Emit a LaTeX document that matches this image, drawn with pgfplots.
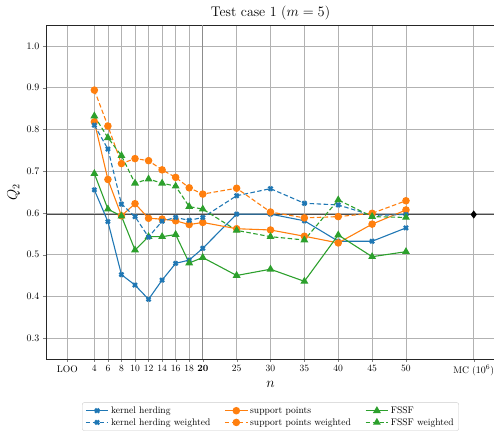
\documentclass[border=0pt]{standalone}
\usepackage{pgfplots}
\pgfplotsset{compat=1.18}
\definecolor{tabblue}{HTML}{1F77B4}
\definecolor{taborange}{HTML}{FF7F0E}
\definecolor{tabgreen}{HTML}{2CA02C}
\begin{document}
\begin{tikzpicture}
\begin{axis}[
  scale only axis, width=449bp, height=334bp,
  xmin=-3.14, xmax=63.14, ymin=0.25, ymax=1.05,
  xtick={0,4,6,8,10,12,14,16,18,20,25,30,35,40,45,50,60},
  xticklabels={LOO,4,6,8,10,12,14,16,18,\textbf{20},25,30,35,40,45,50,MC ($10^6$)},
  ytick={0.3,0.4,0.5,0.6,0.7,0.8,0.9,1.0},
  yticklabel style={/pgf/number format/.cd,fixed,fixed zerofill,precision=1},
  tick label style={font=\fontsize{9.6}{11}\selectfont},
  tick align=outside, tick pos=left,
  major tick length=3bp,
  grid=major, grid style={black!30, line width=0.7pt},
  axis line style={black!85, line width=0.7pt},
  title={Test case 1 ($m=5$)},
  title style={font=\fontsize{14}{16}\selectfont, yshift=-5bp},
  xlabel={$n$}, ylabel={$Q_2$},
  label style={font=\fontsize{14}{16}\selectfont},
  xlabel style={yshift=2bp},
  every axis plot/.append style={line width=1.1pt},
  legend style={at={(0.5,-0.13)}, anchor=north, legend columns=3,
    font=\fontsize{9.6}{11}\selectfont, draw=black!20, rounded corners=2pt,
    /tikz/every even column/.append style={column sep=12bp},
    row sep=-0.5bp, inner xsep=3bp, inner ysep=2bp},
  legend cell align=left,
  legend image code/.code={\draw[mark repeat=2,mark phase=2] plot coordinates {(0cm,0cm)(0.4cm,0cm)(0.8cm,0cm)};},
]
% reference lines
\addplot[forget plot, black!45, line width=1.0pt] coordinates {(20,0.25)(20,1.05)};
\addplot[forget plot, black!70, line width=1.3pt] coordinates {(-3.14,0.596)(63.14,0.596)};
\addplot[forget plot, only marks, black, mark=diamond*, mark size=3.2pt] coordinates {(60,0.596)};

% kernel herding
\addplot[tabblue, solid, mark=x, mark size=2.8pt, mark options={solid, line width=2.3pt}] coordinates {
(4,0.655)(6,0.579)(8,0.452)(10,0.427)(12,0.393)(14,0.439)(16,0.479)(18,0.487)(20,0.515)(25,0.597)(30,0.597)(35,0.581)(40,0.532)(45,0.532)(50,0.564)};
\addlegendentry{kernel herding}
% support points
\addplot[taborange, solid, mark=*, mark size=3.2pt, mark options={solid}] coordinates {
(4,0.818)(6,0.680)(8,0.593)(10,0.622)(12,0.587)(14,0.585)(16,0.581)(18,0.572)(20,0.577)(25,0.562)(30,0.559)(35,0.544)(40,0.528)(45,0.573)(50,0.607)};
\addlegendentry{support points}
% FSSF
\addplot[tabgreen, solid, mark=triangle*, mark size=3.5pt, mark options={solid}] coordinates {
(4,0.694)(6,0.609)(8,0.592)(10,0.511)(12,0.543)(14,0.543)(16,0.548)(18,0.480)(20,0.493)(25,0.450)(30,0.465)(35,0.436)(40,0.547)(45,0.495)(50,0.507)};
\addlegendentry{FSSF}
% kernel herding weighted
\addplot[tabblue, dash pattern=on 4.5pt off 2.5pt, mark=x, mark size=2.8pt, mark options={solid, line width=2.3pt}] coordinates {
(4,0.810)(6,0.753)(8,0.621)(10,0.591)(12,0.542)(14,0.580)(16,0.589)(18,0.582)(20,0.589)(25,0.641)(30,0.658)(35,0.623)(40,0.619)(45,0.594)(50,0.596)};
\addlegendentry{kernel herding weighted}
% support points weighted
\addplot[taborange, dash pattern=on 4.5pt off 2.5pt, mark=*, mark size=3.2pt, mark options={solid}] coordinates {
(4,0.894)(6,0.808)(8,0.718)(10,0.730)(12,0.725)(14,0.703)(16,0.685)(18,0.660)(20,0.645)(25,0.659)(30,0.602)(35,0.588)(40,0.591)(45,0.599)(50,0.629)};
\addlegendentry{support points weighted}
% FSSF weighted
\addplot[tabgreen, dash pattern=on 4.5pt off 2.5pt, mark=triangle*, mark size=3.5pt, mark options={solid}] coordinates {
(4,0.832)(6,0.780)(8,0.737)(10,0.671)(12,0.681)(14,0.671)(16,0.664)(18,0.615)(20,0.609)(25,0.558)(30,0.543)(35,0.535)(40,0.631)(45,0.591)(50,0.589)};
\addlegendentry{FSSF weighted}
\end{axis}
\pgfresetboundingbox
\path[use as bounding box] ([xshift=-46bp,yshift=-73bp]current axis.south west) rectangle ([xshift=-1bp,yshift=25bp]current axis.north east);
\end{tikzpicture}
\end{document}
